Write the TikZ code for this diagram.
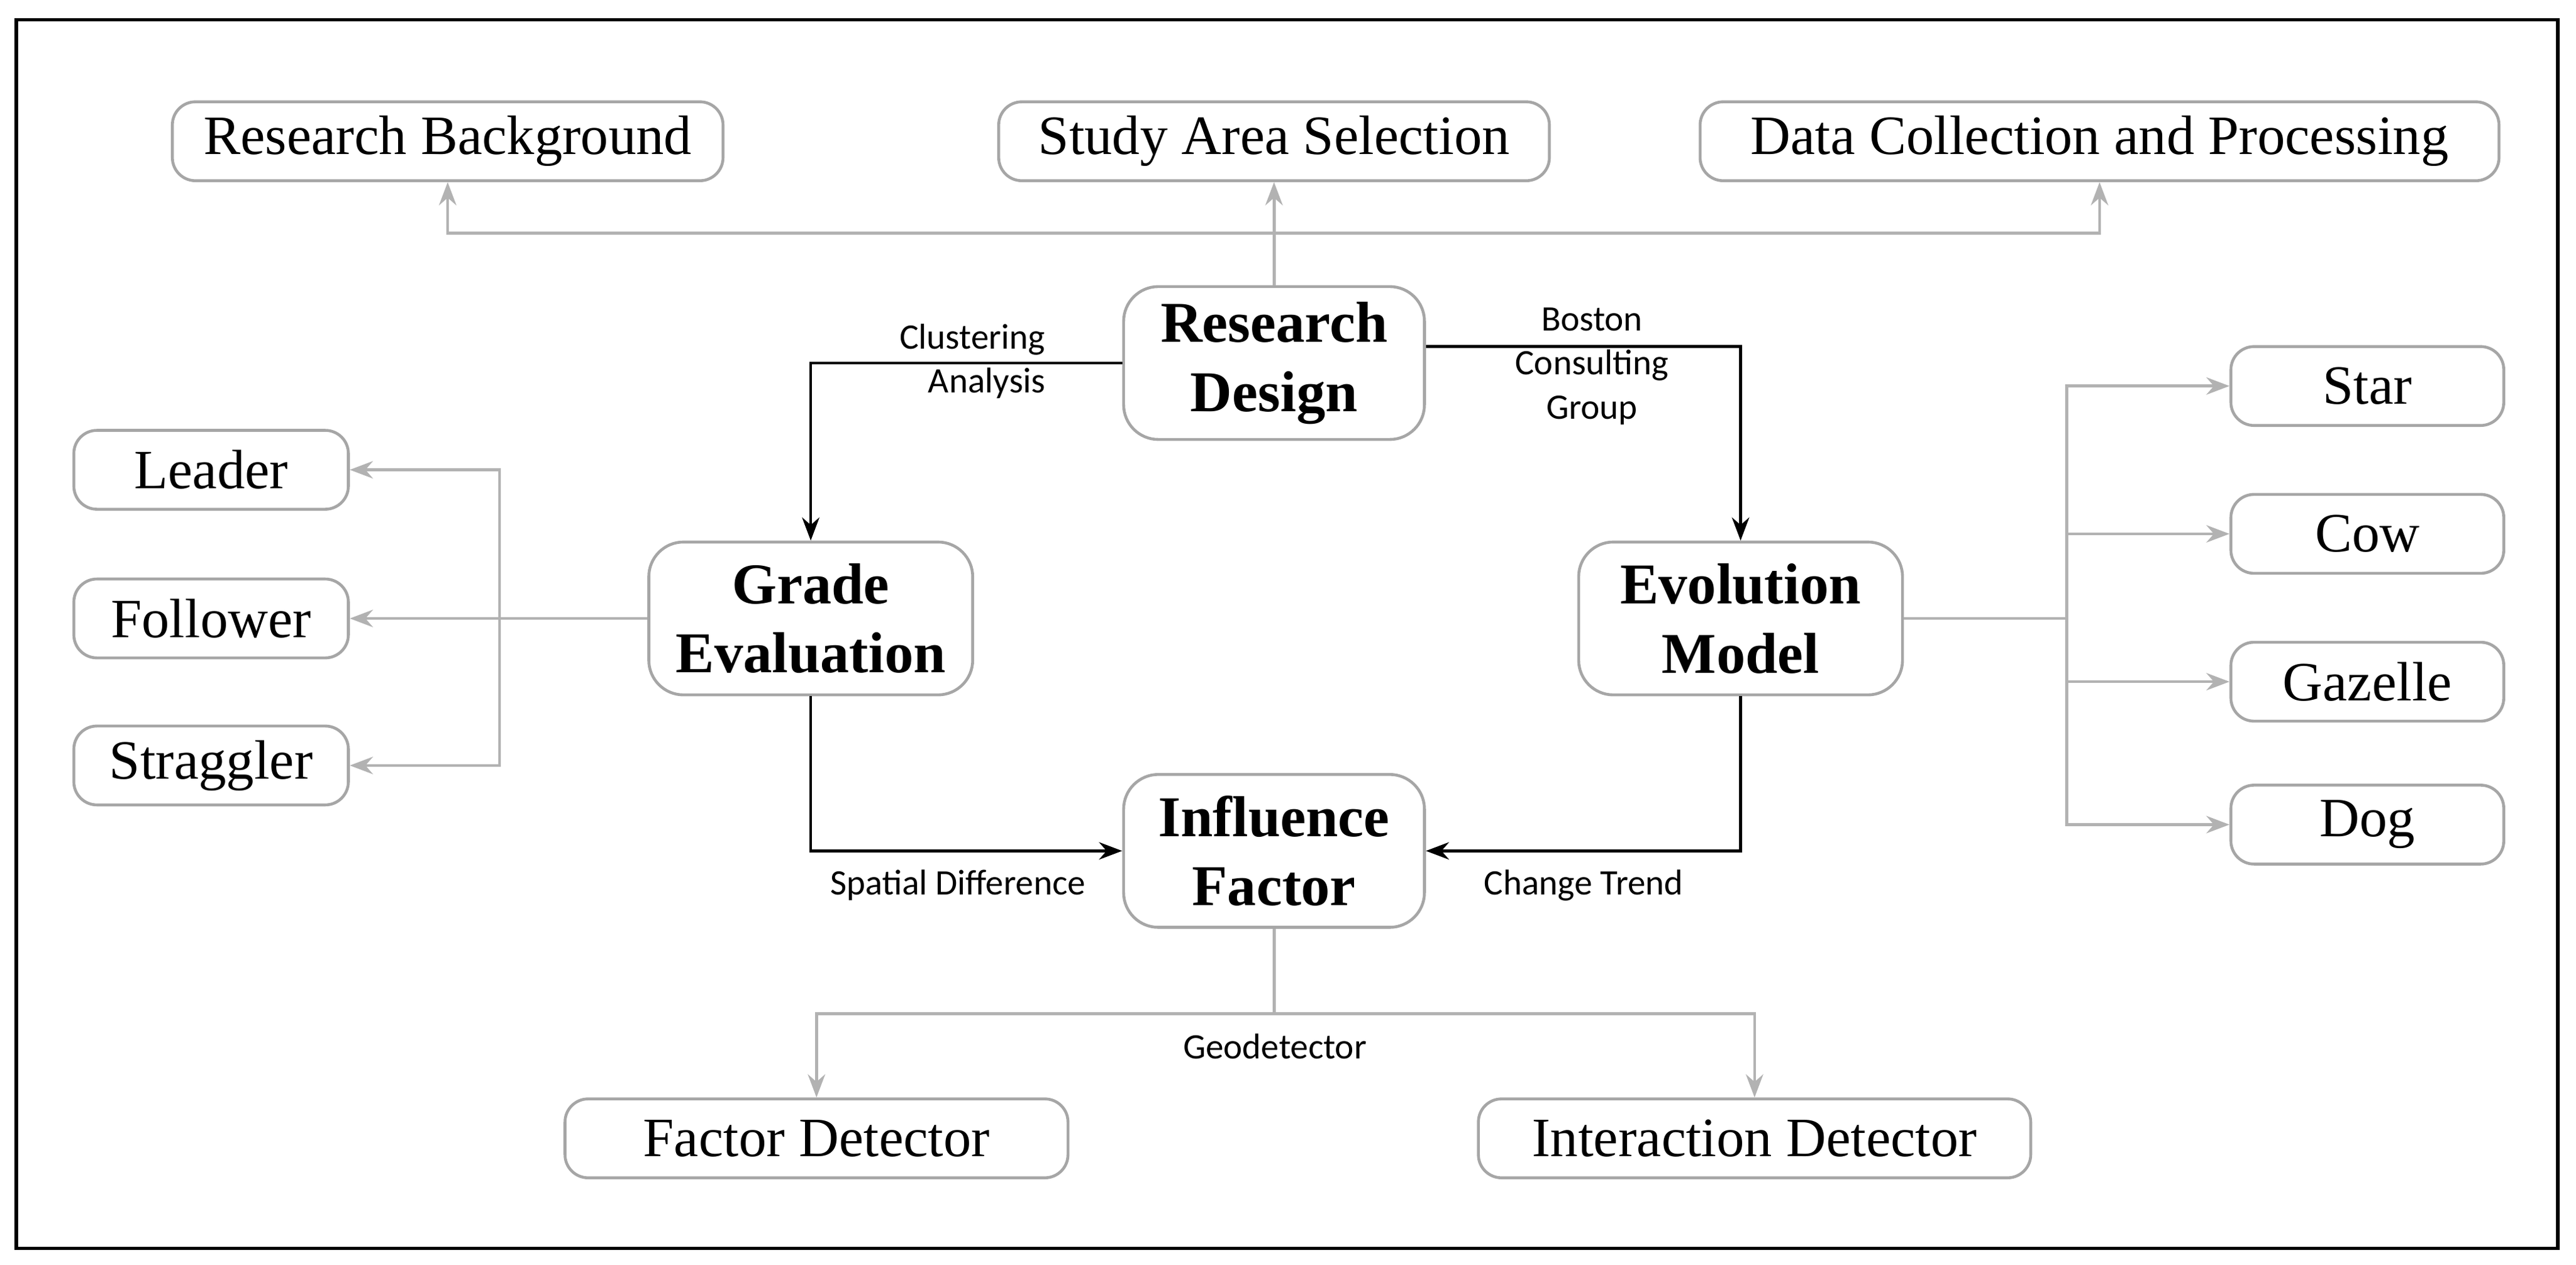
\documentclass[tikz,border=0pt]{standalone}
\usepackage{fontspec}
\setmainfont{Liberation Serif}
\newfontfamily\lbl{Carlito}
\usetikzlibrary{arrows.meta}

\begin{document}
\begin{tikzpicture}[x=0.01cm,y=-0.01cm,
  box/.style={draw=gray!70, rounded corners=4pt, line width=0.5pt, inner sep=0pt, font=\fontsize{9.6}{11}\selectfont},
  core/.style={draw=gray!70, rounded corners=6pt, line width=0.5pt, inner sep=0pt, align=center, font=\fontsize{10}{12}\bfseries\selectfont, minimum width=1.97cm, minimum height=0.93cm},
  lab/.style={font=\lbl\fontsize{6.2}{7.6}\selectfont, align=center},
  gline/.style={draw=gray!60, line width=0.5pt, -{Stealth[length=4pt,width=3pt]}},
  bline/.style={draw=black, line width=0.5pt, -{Stealth[length=4pt,width=3pt]}}]
  \useasboundingbox (0,0) rectangle (1568,770);
  \draw[line width=0.6pt] (10,12) rectangle (1557,760);

  \node[box, minimum width=3.35cm, minimum height=0.48cm] (background) at (272.5,86) {Research Background};
  \node[box, minimum width=3.35cm, minimum height=0.48cm] (studyarea) at (775.5,86) {Study Area Selection};
  \node[box, minimum width=4.86cm, minimum height=0.48cm] (datacoll) at (1278,86) {Data Collection and Processing};

  \node[core, minimum width=1.83cm] (design) at (775.5,221) {Research\\Design};
  \node[core] (grade) at (493.5,376.5) {Grade\\Evaluation};
  \node[core] (evolution) at (1059.5,376.5) {Evolution\\Model};
  \node[core, minimum width=1.83cm] (influence) at (775.5,518) {Influence\\Factor};

  \node[box, minimum width=1.67cm, minimum height=0.48cm] (leader) at (128.5,286) {Leader};
  \node[box, minimum width=1.67cm, minimum height=0.48cm] (follower) at (128.5,376.5) {Follower};
  \node[box, minimum width=1.67cm, minimum height=0.48cm] (straggler) at (128.5,466) {Straggler};

  \node[box, minimum width=1.66cm, minimum height=0.48cm] (star) at (1441,235) {Star};
  \node[box, minimum width=1.66cm, minimum height=0.48cm] (cow) at (1441,325) {Cow};
  \node[box, minimum width=1.66cm, minimum height=0.48cm] (gazelle) at (1441,415) {Gazelle};
  \node[box, minimum width=1.66cm, minimum height=0.48cm] (dog) at (1441,502) {Dog};

  \node[box, minimum width=3.06cm, minimum height=0.48cm] (factordet) at (497,693) {Factor Detector};
  \node[box, minimum width=3.36cm, minimum height=0.48cm] (interdet) at (1068,693) {Interaction Detector};

  \coordinate (topbus) at (775.5,142);
  \coordinate (leftbus) at (304,376.5);
  \coordinate (rightbus) at (1258,376.5);
  \coordinate (botbus) at (775.5,617);

  % top branch
  \draw[gray!60, line width=0.5pt] (design.north) -- (topbus);
  \draw[gline] (topbus) -| (background.south);
  \draw[gline] (topbus) -- (studyarea.south);
  \draw[gline] (topbus) -| (datacoll.south);

  % main loop
  \draw[bline] (design.west) -| (grade.north);
  \node[lab, align=right] (clustering) at (592,220) {Clustering\\Analysis};
  \draw[bline] (design.east |- 0,211) -| (evolution.north);
  \node[lab] (bcg) at (969,223) {Boston\\Consulting\\Group};
  \draw[bline] (grade.south) |- (influence.west);
  \node[lab] (spatial) at (583,539) {Spatial Difference};
  \draw[bline] (evolution.south) |- (influence.east);
  \node[lab] (trend) at (964,539) {Change Trend};

  % left branch
  \draw[gray!60, line width=0.5pt] (grade.west) -- (leftbus);
  \draw[gline] (leftbus) |- (leader.east);
  \draw[gline] (leftbus) -- (follower.east);
  \draw[gline] (leftbus) |- (straggler.east);

  % right branch
  \draw[gray!60, line width=0.5pt] (evolution.east) -- (rightbus);
  \draw[gline] (rightbus) |- (star.west);
  \draw[gline] (rightbus) |- (cow.west);
  \draw[gline] (rightbus) |- (gazelle.west);
  \draw[gline] (rightbus) |- (dog.west);

  % bottom branch
  \draw[gray!60, line width=0.5pt] (influence.south) -- (botbus);
  \draw[gline] (botbus) -| (factordet.north);
  \draw[gline] (botbus) -| (interdet.north);
  \node[lab] (geodet) at (776,637) {Geodetector};
\end{tikzpicture}
\end{document}
